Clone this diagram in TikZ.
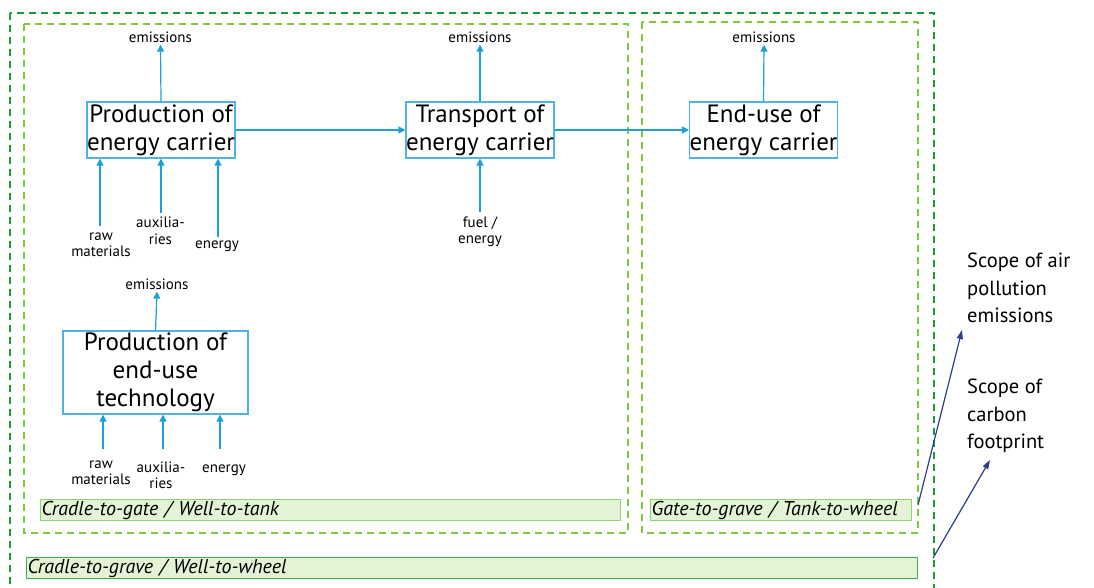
\documentclass[tikz,border=0pt]{standalone}
\usepackage{fontspec}
\setmainfont{PT Sans}
\usetikzlibrary{arrows.meta}
\definecolor{flow}{HTML}{1BA0D8}
\definecolor{boxline}{HTML}{4DB3E0}
\definecolor{darkgrn}{HTML}{1E9A3C}
\definecolor{lightgrn}{HTML}{7DCB3C}
\definecolor{barfill}{HTML}{E2F3D6}
\definecolor{barline}{HTML}{8ED46A}
\definecolor{navy}{HTML}{2E3E8C}
\tikzset{
  proc/.style={draw=boxline, line width=1.2pt, fill=white, inner sep=0pt, align=center,
    font=\fontsize{25}{28}\selectfont},
  lbl/.style={inner sep=2pt, align=center, font=\fontsize{15}{16.5}\selectfont},
  flowarrow/.style={draw=flow, line width=1.2pt, -{Triangle[length=7pt,width=7pt]}},
  outerdash/.style={draw=darkgrn, line width=2pt, dash pattern=on 7pt off 5pt},
  innerdash/.style={draw=lightgrn, line width=2pt, dash pattern=on 7pt off 5pt},
  bar/.style={fill=barfill, draw=barline, line width=1.2pt, inner ysep=0pt, inner xsep=1pt,
    minimum height=21pt, anchor=north west, align=left, font=\fontsize{20}{22}\itshape\selectfont},
  scope/.style={inner sep=0pt, anchor=north west, align=left, font=\fontsize{20.5}{27.5}\selectfont},
  scopearrow/.style={draw=navy, line width=1.2pt, -{Triangle[length=9pt,width=6pt]}}
}
\begin{document}
\begin{tikzpicture}[x=1pt,y=-1pt]
\clip (0,0) rectangle (1094,587);
\fill[white] (0,0) rectangle (1094,587);
% dashed frames
\draw[outerdash] (10,13) rectangle (934,620);
\draw[innerdash] (24,24) rectangle (628,533);
\draw[innerdash] (642,22) rectangle (918,533);
% bars
\node[bar, text width=578pt] (btank) at (40,499) {Cradle-to-gate / Well-to-tank};
\node[bar, text width=259pt] (bwheel) at (650,499) {Gate-to-grave / Tank-to-wheel};
\node[bar, draw=darkgrn!70!barline, text width=889pt] (bgrave) at (26,557) {Cradle-to-grave / Well-to-wheel};
% process boxes
\node[proc, minimum width=148pt, minimum height=56pt] (pec) at (161,130) {Production of\\energy carrier};
\node[proc, minimum width=148pt, minimum height=56pt] (tec) at (480,130) {Transport of\\energy carrier};
\node[proc, minimum width=147pt, minimum height=56pt] (eec) at (763.5,130) {End-use of\\energy carrier};
\node[proc, minimum width=185pt, minimum height=83pt] (pet) at (155.5,372.5) {Production of\\end-use\\technology};
% emissions labels
\node[lbl] (em1) at (160.5,37) {emissions};
\node[lbl] (em2) at (480,37) {emissions};
\node[lbl] (em3) at (764,37) {emissions};
\node[lbl] (em4) at (157,284) {emissions};
\draw[flowarrow] (pec.north) -- (em1.south);
\draw[flowarrow] (tec.north) -- (em2.south);
\draw[flowarrow] (eec.north) -- (em3.south);
\draw[flowarrow] (pet.north) -- (em4.south);
% inputs of production of energy carrier
\node[lbl] (raw1) at (101,245) {raw\\materials};
\node[lbl] (aux1) at (160.5,231) {auxilia-\\ries};
\node[lbl] (en1) at (217,246) {energy};
\coordinate (raw1t) at (100,226);
\coordinate (aux1t) at (161,213);
\coordinate (en1t) at (218,237);
\draw[flowarrow] (raw1t) -- (raw1t |- pec.south);
\draw[flowarrow] (aux1t) -- (aux1t |- pec.south);
\draw[flowarrow] (en1t) -- (en1t |- pec.south);
% input of transport
\node[lbl] (fuel) at (480,231.5) {fuel /\\energy};
\coordinate (fuelt) at (480,212);
\draw[flowarrow] (fuelt) -- (tec.south);
% inputs of production of end-use technology
\node[lbl] (raw2) at (101,473) {raw\\materials};
\node[lbl] (aux2) at (161,475.5) {auxilia-\\ries};
\node[lbl] (en2) at (224,470) {energy};
\coordinate (raw2t) at (103,449);
\coordinate (aux2t) at (163,449);
\coordinate (en2t) at (220,449);
\draw[flowarrow] (raw2t) -- (raw2t |- pet.south);
\draw[flowarrow] (aux2t) -- (aux2t |- pet.south);
\draw[flowarrow] (en2t) -- (en2t |- pet.south);
% main chain
\draw[flowarrow] (pec.east) -- (tec.west);
\draw[flowarrow] (tec.east) -- (eec.west);
% scope texts
\node[scope] (sair) at (967,253) {Scope of air\\pollution\\emissions};
\node[scope] (scarb) at (967,379) {Scope of\\carbon\\footprint};
\coordinate (a1s) at (918,505);
\coordinate (a1e) at (962,330);
\coordinate (a2s) at (933,558);
\coordinate (a2e) at (990,460);
\draw[scopearrow] (a1s) -- (a1e);
\draw[scopearrow] (a2s) -- (a2e);
\end{tikzpicture}
\end{document}
